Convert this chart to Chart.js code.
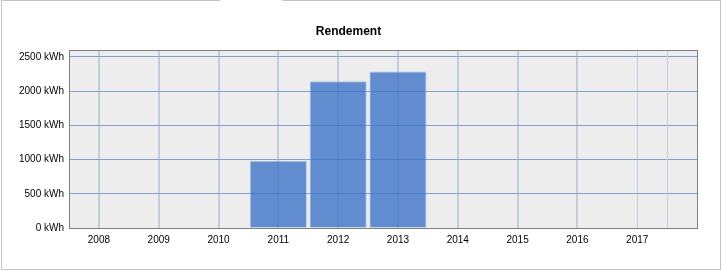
<!DOCTYPE html>
<html>
<head>
<meta charset="utf-8">
<script src="https://cdn.jsdelivr.net/npm/chart.js@4"></script>
<style>
  html, body { margin: 0; padding: 0; background: #fff; }
  #frame { position: absolute; left: 1px; top: 0; width: 718px; height: 268px; border: 1px solid #c3c3c3; }
  #notch { position: absolute; left: 220px; top: 0; width: 62px; height: 1px; background: #fff; }
  #wrap { position: absolute; left: 0; top: 0; width: 722px; height: 271px; }
</style>
</head>
<body>
<div id="frame"></div>
<div id="notch"></div>
<div id="wrap"><canvas id="grafico"></canvas></div>
<script>
// DATOS
const years = [2008, 2009, 2010, 2011, 2012, 2013, 2014, 2015, 2016, 2017];
const yields = [null, null, null, 984, 2143, 2285, null, null, null, null];
const yTicks = [0, 500, 1000, 1500, 2000, 2500];
const xGridExtra = [2017.5];

const fuente = "'Liberation Sans', Arial, sans-serif";

// fondo gris, linea extra y borde del area del grafico
const areaPlugin = {
  id: 'area',
  beforeDraw(chart) {
    const a = chart.chartArea, ctx = chart.ctx;
    ctx.save();
    ctx.fillStyle = '#ededed';
    ctx.fillRect(a.left, a.top, a.right - a.left, a.bottom - a.top);
    ctx.restore();
  },
  beforeDatasetsDraw(chart) {
    const a = chart.chartArea, ctx = chart.ctx, x = chart.scales.x;
    ctx.save();
    ctx.strokeStyle = '#c4cfdc';
    ctx.lineWidth = 1;
    xGridExtra.forEach(v => {
      const px = Math.round(x.getPixelForValue(v)) + 0.5;
      ctx.beginPath();
      ctx.moveTo(px, a.top);
      ctx.lineTo(px, a.bottom);
      ctx.stroke();
    });
    ctx.restore();
  },
  afterDraw(chart) {
    const a = chart.chartArea, ctx = chart.ctx;
    ctx.save();
    ctx.strokeStyle = '#808080';
    ctx.lineWidth = 1;
    ctx.strokeRect(Math.round(a.left) + 0.5, Math.round(a.top) + 0.5, Math.round(a.right - a.left), Math.round(a.bottom - a.top));
    ctx.restore();
  }
};

const data = {
  datasets: [{
    label: 'Rendement',
    data: years.map((y, i) => ({ x: y, y: yields[i] })),
    backgroundColor: 'rgba(61, 115, 200, 0.8)',
    borderColor: 'rgba(150, 180, 225, 0.7)',
    borderWidth: 1,
    borderSkipped: 'bottom',
    barPercentage: 1,
    categoryPercentage: 0.955
  }]
};

const config = {
  type: 'bar',
  data: data,
  options: {
    responsive: false,
    animation: false,
    devicePixelRatio: 1,
    layout: { padding: { left: 0, right: 25, top: 0, bottom: 0 } },
    plugins: {
      legend: { display: false },
      tooltip: { enabled: false },
      title: {
        display: true,
        text: 'Rendement',
        color: '#000',
        font: { family: fuente, size: 12, weight: 'bold' },
        padding: { top: 24, bottom: 11.6 }
      }
    },
    scales: {
      x: {
        type: 'linear',
        min: 2007.5,
        max: 2018,
        offset: false,
        afterBuildTicks: (axis) => {
          axis.ticks = years.map(v => ({ value: v }));
        },
        afterFit: (axis) => { axis.height = 43; },
        ticks: {
          color: '#000',
          font: { family: fuente, size: 10 },
          padding: 6,
          autoSkip: false,
          maxRotation: 0,
          callback: (v) => String(v)
        },
        grid: {
          offset: false,
          color: '#c2cddc',
          lineWidth: (c) => (c.tick && c.tick.value <= 2016) ? 2 : 1,
          drawTicks: false
        },
        border: { display: false }
      },
      y: {
        min: 0,
        max: 2600,
        afterBuildTicks: (axis) => {
          axis.ticks = yTicks.map(v => ({ value: v }));
        },
        afterFit: (axis) => { axis.width = 69; },
        ticks: {
          color: '#000',
          font: { family: fuente, size: 10 },
          padding: 5,
          callback: (v) => v + ' kWh'
        },
        grid: {
          color: '#84a1cd',
          lineWidth: 1,
          drawTicks: false
        },
        border: { display: false }
      }
    }
  },
  plugins: [areaPlugin]
};

const canvas = document.getElementById('grafico');
canvas.width = 722;
canvas.height = 271;
new Chart(canvas, config);
</script>
</body>
</html>
